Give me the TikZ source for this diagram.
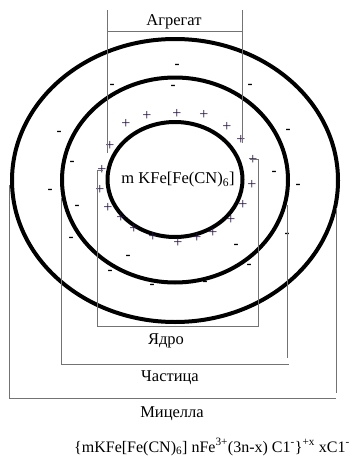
\documentclass[tikz,border=0pt]{standalone}
\usepackage{fontspec}
\setmainfont{Liberation Serif}
\definecolor{pluscol}{RGB}{40,20,70}
\definecolor{bracketcol}{RGB}{115,115,115}
\tikzset{
  shell/.style={line width=4pt},
  bracket/.style={draw=bracketcol, line width=0.9pt},
  plussign/.style={text=pluscol, inner sep=0pt, font=\fontsize{16}{16}\selectfont},
  minussign/.style={inner sep=0pt, font=\fontsize{15}{15}\selectfont\bfseries}
}
\begin{document}
\begin{tikzpicture}[x=1pt, y=-1pt, every node/.style={font=\fontsize{16.5}{18}\selectfont}]
  \useasboundingbox (0,0) rectangle (353,466);

  % shells
  \draw[shell] (175,180.5) ellipse [x radius=163, y radius=141.5];
  \draw[shell] (175,180) ellipse [x radius=113, y radius=102.5];
  \draw[shell] (175,179.5) ellipse [x radius=67.5, y radius=57.5];
  \node (core) at (178,180) {m KFe[Fe(CN)\textsubscript{6}]};

  % adsorbed ions
  \foreach \x/\y [count=\i] in {147/116,177/114,204/115,126/124,227/127,110/146,
      241/140,253/160,102/170,252/185,100/190,243/205,108/208,231/220,121/218,
      213/233,134/229,197/238,153/237,178/243} {
    \node[plussign] (p\i) at (\x,\y) {+};
  }

  % counter ions
  \foreach \x/\y [count=\i] in {177/66,112/86,173/87,250/86,59/133,288/131,
      72/163,274/173,50/191,298/186,77/207,287/235,71/239,236/246,128/257,
      249/266,110/272,152/286,205/283} {
    \node[minussign] (m\i) at (\x,\y) {-};
  }

  % aggregate
  \draw[bracket] (107,10) -- (107,153);
  \draw[bracket] (242,10) -- (242,143);
  \draw[bracket] (107,31) -- (242,31);
  \node (agg) at (174,22) {Агрегат};

  % nucleus
  \draw[bracket] (103,170) -- (97,170) -- (97,326) -- (258,326) -- (258,159) -- (250,159);
  \node (nuc) at (166,341) {Ядро};

  % particle
  \draw[bracket] (61,198) -- (61,364) -- (289,364);
  \draw[bracket] (287,205) -- (287,358);
  \node (part) at (170,378) {Частица};

  % micelle
  \draw[bracket] (9,185) -- (9,398) -- (336,398);
  \draw[bracket] (336,208) -- (336,393);
  \node (mic) at (172,414) {Мицелла};

  % formula
  \node[anchor=base west, inner sep=0pt, font=\fontsize{16}{18}\selectfont] (formula) at (74,452)
    {\{mKFe[Fe(CN)\textsubscript{6}] nFe\textsuperscript{3+}(3n-x) C1\textsuperscript{-}\}\textsuperscript{+x} xC1\textsuperscript{-}};
\end{tikzpicture}
\end{document}
